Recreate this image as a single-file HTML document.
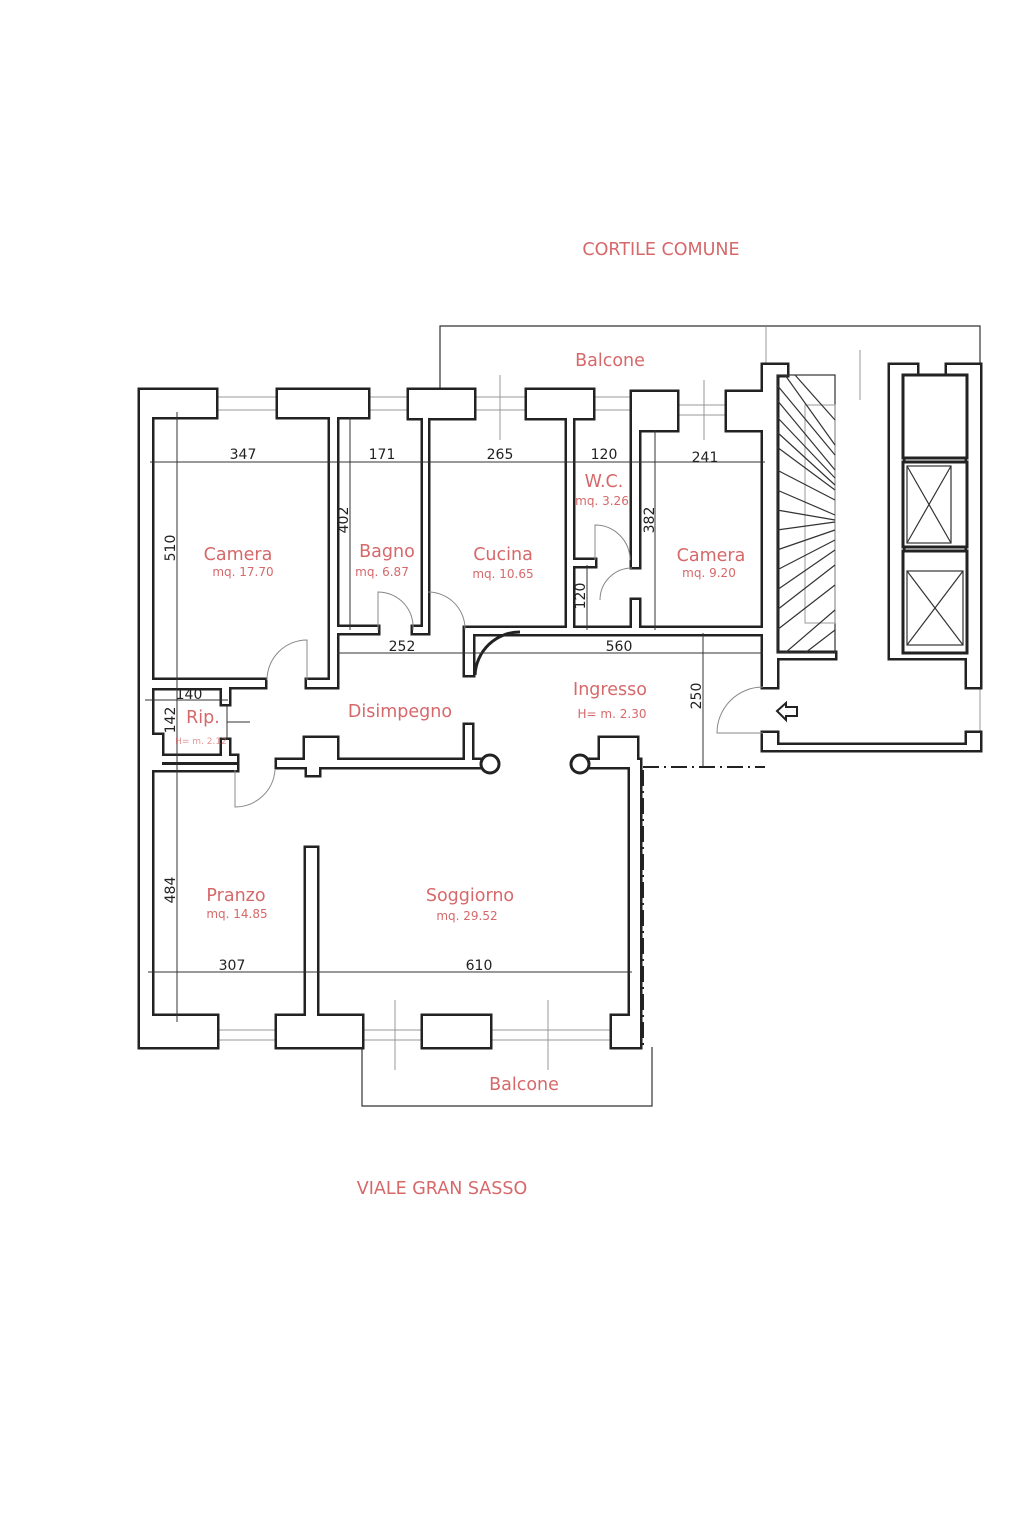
<!DOCTYPE html>
<html><head><meta charset="utf-8"><style>
html,body{margin:0;padding:0;background:#fff;}
svg{display:block;}
.r{fill:#d6686a;font-family:"DejaVu Sans","Liberation Sans",sans-serif;}
.k{fill:#222;font-family:"DejaVu Sans","Liberation Sans",sans-serif;font-size:14px;}
</style></head><body>
<svg width="1024" height="1536" viewBox="0 0 1024 1536" xmlns="http://www.w3.org/2000/svg">
<defs>
<g id="w">
 <rect x="140" y="390" width="12" height="657"/>
 <rect x="140" y="390" width="76" height="27"/>
 <rect x="278" y="390" width="90" height="27"/>
 <rect x="330" y="417" width="7" height="268"/>
 <rect x="307" y="680" width="30" height="7"/>
 <rect x="152" y="680" width="113" height="7"/>
 <rect x="337" y="627" width="41" height="6"/>
 <rect x="413" y="627" width="15" height="6"/>
 <rect x="409" y="390" width="65" height="28"/>
 <rect x="423" y="418" width="5" height="215"/>
 <rect x="465" y="628" width="300" height="6"/>
 <rect x="465" y="628" width="8" height="47"/>
 <rect x="527" y="390" width="66" height="28"/>
 <rect x="567" y="418" width="6" height="215"/>
 <rect x="567" y="560" width="28" height="6"/>
 <rect x="637" y="392" width="40" height="38"/>
 <rect x="632" y="392" width="7" height="175"/>
 <rect x="632" y="600" width="7" height="33"/>
 <rect x="727" y="392" width="38" height="38"/>
 <rect x="763" y="365" width="14" height="322"/>
 <rect x="763" y="365" width="24" height="10"/>
 <rect x="763" y="653" width="72" height="5"/>
 <rect x="763" y="733" width="14" height="17"/>
 <rect x="763" y="745" width="217" height="5"/>
 <rect x="967" y="733" width="13" height="17"/>
 <rect x="967" y="365" width="13" height="322"/>
 <rect x="947" y="365" width="33" height="10"/>
 <rect x="890" y="365" width="27" height="10"/>
 <rect x="890" y="365" width="13" height="293"/>
 <rect x="890" y="653" width="77" height="5"/>
 <rect x="150" y="682" width="78" height="6"/>
 <rect x="222" y="682" width="7" height="22"/>
 <rect x="222" y="740" width="7" height="20"/>
 <rect x="152" y="735" width="10" height="25"/>
 <rect x="152" y="756" width="85" height="6"/>
 <rect x="152" y="762" width="10" height="8"/>
 <rect x="150" y="765" width="87" height="5"/>
 <rect x="277" y="760" width="213" height="7"/>
 <rect x="305" y="738" width="32" height="25"/>
 <rect x="307" y="763" width="12" height="12"/>
 <rect x="465" y="725" width="7" height="40"/>
 <rect x="600" y="738" width="37" height="28"/>
 <rect x="580" y="760" width="60" height="7"/>
 <rect x="630" y="760" width="10" height="287"/>
 <rect x="612" y="1016" width="20" height="31"/>
 <rect x="140" y="1016" width="77" height="31"/>
 <rect x="277" y="1016" width="85" height="31"/>
 <rect x="306" y="848" width="11" height="170"/>
 <rect x="423" y="1016" width="67" height="31"/>
</g>
</defs>
<g stroke="#333" stroke-width="1.2" fill="none">
 <polyline points="440,390 440,326 980,326 980,365"/>
 <polyline points="362,1047 362,1106 652,1106 652,1047"/>
</g>
<g stroke="#999" stroke-width="1" fill="none">
 <line x1="216" y1="397" x2="278" y2="397"/><line x1="216" y1="410" x2="278" y2="410"/>
 <line x1="368" y1="397" x2="409" y2="397"/><line x1="368" y1="410" x2="409" y2="410"/>
 <line x1="474" y1="397" x2="527" y2="397"/><line x1="474" y1="410" x2="527" y2="410"/>
 <line x1="593" y1="397" x2="637" y2="397"/><line x1="593" y1="410" x2="637" y2="410"/>
 <line x1="677" y1="405" x2="727" y2="405"/><line x1="677" y1="415" x2="727" y2="415"/>
 <line x1="217" y1="1030" x2="277" y2="1030"/><line x1="217" y1="1040" x2="277" y2="1040"/>
 <line x1="362" y1="1030" x2="423" y2="1030"/><line x1="362" y1="1040" x2="423" y2="1040"/>
 <line x1="490" y1="1030" x2="612" y2="1030"/><line x1="490" y1="1040" x2="612" y2="1040"/>
 <line x1="395" y1="1000" x2="395" y2="1070"/><line x1="548" y1="1000" x2="548" y2="1070"/>
 <line x1="500" y1="375" x2="500" y2="440"/><line x1="704" y1="380" x2="704" y2="440"/>
 <line x1="766" y1="327" x2="766" y2="380"/><line x1="860" y1="350" x2="860" y2="400"/>
 <line x1="980" y1="687" x2="980" y2="745"/>
</g>
<use href="#w" fill="#222" stroke="#222" stroke-width="5" stroke-linejoin="miter"/>
<use href="#w" fill="#fff" stroke="none"/>
<circle cx="490" cy="764" r="9" fill="#fff" stroke="#222" stroke-width="3"/>
<circle cx="580" cy="764" r="9" fill="#fff" stroke="#222" stroke-width="3"/>
<g stroke="#222" stroke-width="2" fill="none" stroke-dasharray="16,5,2,5">
 <line x1="643" y1="767" x2="765" y2="767"/>
 <line x1="643" y1="770" x2="643" y2="1045"/>
</g>
<g stroke="#333" stroke-width="1.2" fill="none">
 <rect x="777" y="375" width="58" height="278"/>
 <rect x="805" y="405" width="30" height="218" stroke="#aaa"/>
 <line x1="795" y1="375" x2="835" y2="420"/><line x1="785" y1="375" x2="835" y2="445"/>
 <line x1="777" y1="385" x2="835" y2="455"/><line x1="777" y1="400" x2="835" y2="470"/>
 <line x1="777" y1="417" x2="835" y2="478"/><line x1="777" y1="432" x2="835" y2="485"/>
 <line x1="777" y1="447" x2="835" y2="490"/><line x1="777" y1="470" x2="835" y2="500"/>
 <line x1="777" y1="490" x2="835" y2="515"/><line x1="777" y1="510" x2="835" y2="520"/>
 <line x1="777" y1="530" x2="835" y2="522"/><line x1="777" y1="550" x2="835" y2="530"/>
 <line x1="777" y1="570" x2="835" y2="540"/><line x1="777" y1="590" x2="835" y2="550"/>
 <line x1="777" y1="610" x2="835" y2="565"/><line x1="777" y1="630" x2="835" y2="585"/>
 <line x1="785" y1="653" x2="835" y2="610"/><line x1="805" y1="653" x2="835" y2="630"/>
</g>
<g stroke="#222" stroke-width="3" fill="#fff">
 <rect x="903" y="375" width="64" height="83"/>
 <rect x="903" y="462" width="64" height="85"/>
 <rect x="903" y="551" width="64" height="102"/>
</g>
<g stroke="#333" stroke-width="1.2" fill="none">
 <rect x="907" y="466" width="44" height="77"/><line x1="907" y1="466" x2="951" y2="543"/><line x1="951" y1="466" x2="907" y2="543"/>
 <rect x="907" y="571" width="56" height="74"/><line x1="907" y1="571" x2="963" y2="645"/><line x1="963" y1="571" x2="907" y2="645"/>
</g>
<path d="M777,711 L786,703 L786,707 L797,707 L797,716 L786,716 L786,720 Z" fill="#fff" stroke="#222" stroke-width="2"/>
<g stroke="#888" stroke-width="1" fill="none">
 <path d="M307,680 L307,640 A40,40 0 0 0 267,680"/>
 <path d="M378,630 L378,592 A35,35 0 0 1 413,630"/>
 <path d="M428,592 A37,37 0 0 1 465,630"/>
 <path d="M595,560 L595,525 A35,35 0 0 1 630,560"/>
 <path d="M600,600 A32,32 0 0 1 632,568"/>
 <path d="M763,687 A46,46 0 0 0 717,733 L763,733"/>
 <path d="M235,770 L235,807 A40,40 0 0 0 275,770"/>
</g>
<path d="M475,675 A45,45 0 0 1 520,632" stroke="#222" stroke-width="3" fill="none"/>
<g stroke="#333" stroke-width="1" fill="none">
 <line x1="150" y1="462" x2="765" y2="462"/>
 <line x1="177" y1="412" x2="177" y2="1022"/>
 <line x1="350" y1="417" x2="350" y2="630"/>
 <line x1="655" y1="430" x2="655" y2="630"/>
 <line x1="587" y1="565" x2="587" y2="630"/>
 <line x1="337" y1="653" x2="763" y2="653"/>
 <line x1="703" y1="633" x2="703" y2="767"/>
 <line x1="145" y1="700" x2="228" y2="700"/>
 <line x1="227" y1="705" x2="227" y2="740"/>
 <line x1="227" y1="722" x2="250" y2="722"/>
 <line x1="148" y1="972" x2="632" y2="972"/>
</g>
<text class="k" x="243" y="459" text-anchor="middle">347</text>
<text class="k" x="382" y="459" text-anchor="middle">171</text>
<text class="k" x="500" y="459" text-anchor="middle">265</text>
<text class="k" x="604" y="459" text-anchor="middle">120</text>
<text class="k" x="705" y="462" text-anchor="middle">241</text>
<text class="k" x="402" y="651" text-anchor="middle">252</text>
<text class="k" x="619" y="651" text-anchor="middle">560</text>
<text class="k" x="189" y="699" text-anchor="middle">140</text>
<text class="k" x="232" y="970" text-anchor="middle">307</text>
<text class="k" x="479" y="970" text-anchor="middle">610</text>
<text class="k" transform="translate(175,548) rotate(-90)" text-anchor="middle">510</text>
<text class="k" transform="translate(348,520) rotate(-90)" text-anchor="middle">402</text>
<text class="k" transform="translate(654,520) rotate(-90)" text-anchor="middle">382</text>
<text class="k" transform="translate(585,596) rotate(-90)" text-anchor="middle">120</text>
<text class="k" transform="translate(701,696) rotate(-90)" text-anchor="middle">250</text>
<text class="k" transform="translate(175,720) rotate(-90)" text-anchor="middle">142</text>
<text class="k" transform="translate(175,890) rotate(-90)" text-anchor="middle">484</text>
<text class="r" x="661" y="255" font-size="17.5" text-anchor="middle">CORTILE COMUNE</text>
<text class="r" x="610" y="366" font-size="17.5" text-anchor="middle">Balcone</text>
<text class="r" x="238" y="560" font-size="17.5" text-anchor="middle">Camera</text>
<text class="r" x="243" y="576" font-size="12" text-anchor="middle">mq. 17.70</text>
<text class="r" x="387" y="557" font-size="17.5" text-anchor="middle">Bagno</text>
<text class="r" x="382" y="576" font-size="12" text-anchor="middle">mq. 6.87</text>
<text class="r" x="503" y="560" font-size="17.5" text-anchor="middle">Cucina</text>
<text class="r" x="503" y="578" font-size="12" text-anchor="middle">mq. 10.65</text>
<text class="r" x="604" y="487" font-size="17.5" text-anchor="middle">W.C.</text>
<text class="r" x="602" y="505" font-size="12" text-anchor="middle">mq. 3.26</text>
<text class="r" x="711" y="561" font-size="17.5" text-anchor="middle">Camera</text>
<text class="r" x="709" y="577" font-size="12" text-anchor="middle">mq. 9.20</text>
<text class="r" x="610" y="695" font-size="17.5" text-anchor="middle">Ingresso</text>
<text class="r" x="612" y="718" font-size="12" text-anchor="middle">H= m. 2.30</text>
<text class="r" x="400" y="717" font-size="17.5" text-anchor="middle">Disimpegno</text>
<text class="r" x="203" y="723" font-size="17.5" text-anchor="middle">Rip.</text>
<text class="r" x="201" y="744" font-size="9" text-anchor="middle" opacity="0.7">H= m. 2.12</text>
<text class="r" x="236" y="901" font-size="17.5" text-anchor="middle">Pranzo</text>
<text class="r" x="237" y="918" font-size="12" text-anchor="middle">mq. 14.85</text>
<text class="r" x="470" y="901" font-size="17.5" text-anchor="middle">Soggiorno</text>
<text class="r" x="467" y="920" font-size="12" text-anchor="middle">mq. 29.52</text>
<text class="r" x="524" y="1090" font-size="17.5" text-anchor="middle">Balcone</text>
<text class="r" x="442" y="1194" font-size="17.5" text-anchor="middle">VIALE GRAN SASSO</text>
</svg>
</body></html>
